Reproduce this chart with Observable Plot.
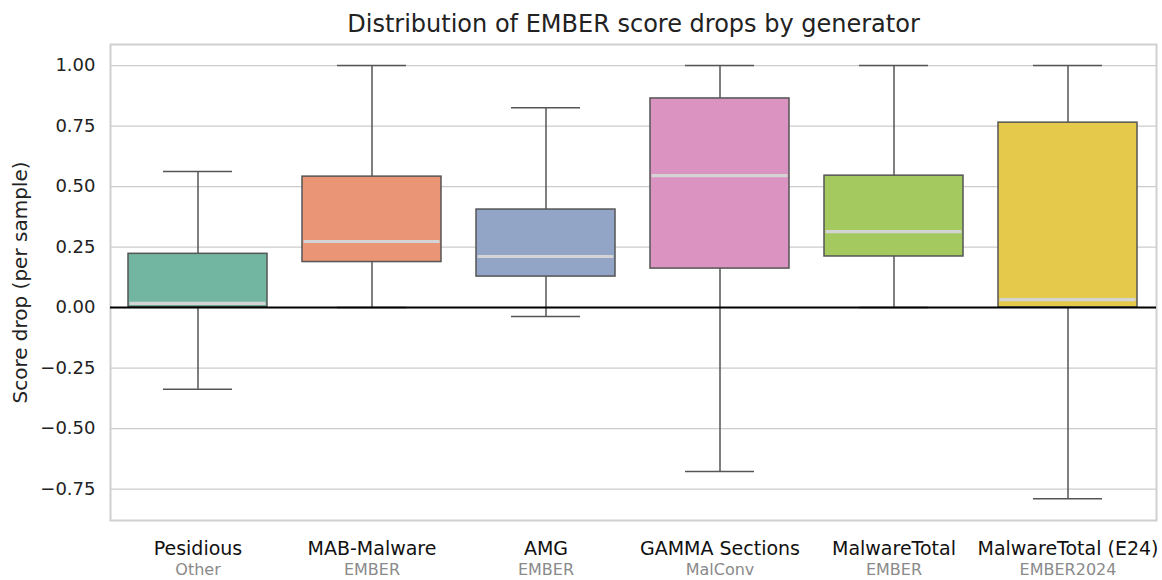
<!DOCTYPE html>
<html>
<head>
<meta charset="utf-8">
<script src="https://cdn.jsdelivr.net/npm/d3@7"></script>
<script src="https://cdn.jsdelivr.net/npm/@observablehq/plot@0.6"></script>
<style>
  html, body { margin: 0; padding: 0; background: #fff; }
  #chart { width: 1162px; height: 580px; }
</style>
</head>
<body>
<div id="chart"></div>
<script>
const generators = ["Pesidious", "MAB-Malware", "AMG", "GAMMA Sections", "MalwareTotal", "MalwareTotal (E24)"];
const targets    = ["Other", "EMBER", "EMBER", "MalConv", "EMBER", "EMBER2024"];
const whiskerLow  = [-0.338, 0.0, -0.037, -0.678, 0.0, -0.790];
const q1          = [0.002, 0.188, 0.128, 0.161, 0.211, 0.0];
const medians     = [0.017, 0.273, 0.211, 0.545, 0.314, 0.033];
const q3          = [0.222, 0.541, 0.405, 0.864, 0.545, 0.764];
const whiskerHigh = [0.562, 1.0, 0.826, 1.0, 1.0, 1.0];
const colors = ["#72b6a1", "#e99576", "#93a5c6", "#db94c1", "#a3c95f", "#e4c94b"];
const yTicks = [-0.75, -0.5, -0.25, 0, 0.25, 0.5, 0.75, 1.0];
const title = "Distribution of EMBER score drops by generator";
const yLabel = "Score drop (per sample)";

const rows = generators.map((g, i) => ({
  gen: g, target: targets[i], lo: whiskerLow[i], q1: q1[i], med: medians[i],
  q3: q3[i], hi: whiskerHigh[i], color: colors[i]
}));

const font = "DejaVu Sans, Noto Sans, sans-serif";
const boxStroke = "#555555";

const chart = Plot.plot({
  width: 1162,
  height: 580,
  marginLeft: 110,
  marginRight: 6,
  marginTop: 44,
  marginBottom: 60,
  style: { fontFamily: font, background: "#fff", overflow: "visible" },
  x: { type: "band", domain: generators, paddingInner: 0.2, paddingOuter: 0.1 },
  y: { domain: [-0.88, 1.087] },
  color: { type: "identity" },
  marks: [
    Plot.gridY(yTicks, { stroke: "#cccccc", strokeOpacity: 1, strokeWidth: 1.3 }),
    Plot.frame({ stroke: "#d0d0d0", strokeWidth: 2 }),
    Plot.ruleX(rows, { x: "gen", y1: "lo", y2: "hi", stroke: boxStroke, strokeWidth: 1.5 }),
    Plot.tickY(rows, { x: "gen", y: "lo", stroke: boxStroke, strokeWidth: 1.5, inset: 35 }),
    Plot.tickY(rows, { x: "gen", y: "hi", stroke: boxStroke, strokeWidth: 1.5, inset: 35 }),
    Plot.barY(rows, { x: "gen", y1: "q1", y2: "q3", fill: "color", stroke: boxStroke, strokeWidth: 1.5 }),
    Plot.tickY(rows, { x: "gen", y: "med", stroke: "#d4d4d4", strokeWidth: 3.2, inset: 1.5 }),
    Plot.ruleY([0], { stroke: "#000", strokeWidth: 2 }),
    Plot.axisY(yTicks, {
      tickSize: 0, tickPadding: 15, fontSize: 18, fill: "#222",
      tickFormat: d3.format(".2f"), label: null
    }),
    Plot.text([yLabel], {
      frameAnchor: "left", textAnchor: "middle", lineAnchor: "middle",
      dx: -90, rotate: -90, fontSize: 20, fill: "#222", text: d => d
    }),
    Plot.axisX({
      tickSize: 0, tickPadding: 21, fontSize: 19, fill: "#111", label: null
    }),
    Plot.text(rows, {
      x: "gen", text: "target", frameAnchor: "bottom", dy: 49, lineAnchor: "middle",
      fontSize: 16, fill: "#8a8a8a"
    }),
    Plot.text([title], {
      frameAnchor: "top", lineAnchor: "middle", dy: -20, fontSize: 24, fill: "#222", text: d => d
    })
  ]
});

document.getElementById("chart").appendChild(chart);
</script>
</body>
</html>
